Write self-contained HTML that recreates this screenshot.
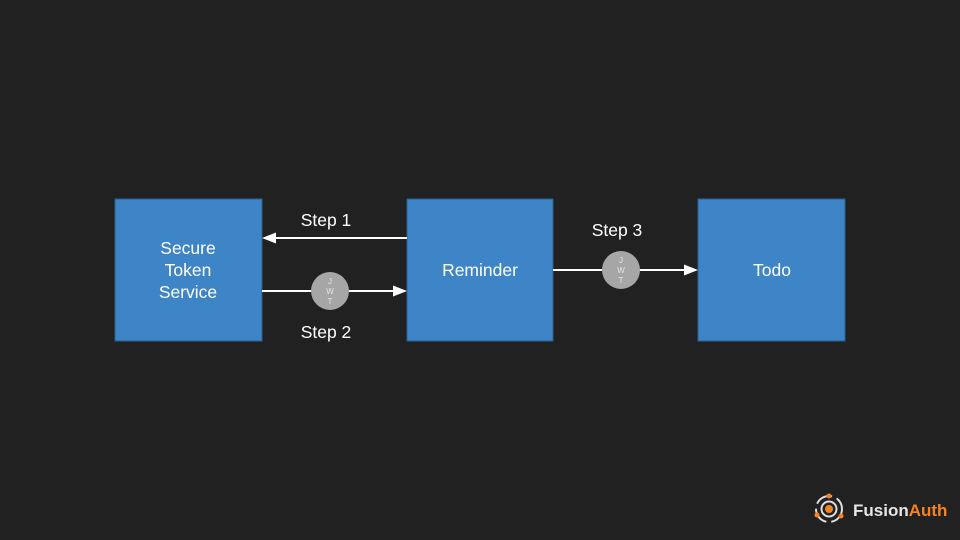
<!DOCTYPE html>
<html><head><style>
html,body{margin:0;padding:0;background:#212121;}
svg{display:block;font-family:"Liberation Sans",Arial,sans-serif;}
</style></head><body>
<svg width="960" height="540" viewBox="0 0 960 540" xmlns="http://www.w3.org/2000/svg">
<rect width="960" height="540" fill="#212121"/>
<rect x="115" y="199" width="147" height="142" fill="#3d85c6" stroke="#2b5f8f" stroke-width="1"/>
<rect x="407" y="199" width="146" height="142" fill="#3d85c6" stroke="#2b5f8f" stroke-width="1"/>
<rect x="698" y="199" width="147" height="142" fill="#3d85c6" stroke="#2b5f8f" stroke-width="1"/>
<g fill="#fff" font-size="17.5" text-anchor="middle">
<text x="188" y="254">Secure</text>
<text x="188" y="276">Token</text>
<text x="188" y="298">Service</text>
<text x="480" y="276">Reminder</text>
<text x="772" y="276">Todo</text>
<text x="326" y="226">Step 1</text>
<text x="326" y="338">Step 2</text>
<text x="617" y="236">Step 3</text>
</g>
<g stroke="#fff" stroke-width="2" fill="#fff">
<line x1="407" y1="238" x2="274" y2="238"/>
<polygon points="262,238 276,232.5 276,243.5" stroke="none"/>
<line x1="262" y1="291" x2="395" y2="291"/>
<polygon points="407,291 393,285.5 393,296.5" stroke="none"/>
<line x1="553" y1="270" x2="686" y2="270"/>
<polygon points="698,270 684,264.5 684,275.5" stroke="none"/>
</g>
<circle cx="330" cy="291" r="19" fill="#a6a6a6"/>
<circle cx="621" cy="270" r="19" fill="#a6a6a6"/>
<g fill="#e6e6e6" font-size="8" text-anchor="middle">
<text x="330" y="284">J</text><text x="330" y="294">W</text><text x="330" y="304">T</text>
<text x="621" y="263">J</text><text x="621" y="273">W</text><text x="621" y="283">T</text>
</g>
<g>
<circle cx="829" cy="509" r="13" fill="none" stroke="#ddd" stroke-width="2" stroke-dasharray="18 5"/>
<circle cx="829" cy="509" r="7.5" fill="none" stroke="#ddd" stroke-width="2"/>
<circle cx="829" cy="509" r="4" fill="#f58320"/>
<circle cx="829" cy="496" r="2.5" fill="#f58320"/>
<circle cx="817" cy="515" r="2.5" fill="#f58320"/>
<circle cx="841" cy="516" r="2.5" fill="#f58320"/>
<text x="853" y="516" font-size="17" font-weight="bold" fill="#e6e6e6">Fusion<tspan fill="#f58320">Auth</tspan></text>
</g>
</svg>
</body></html>
